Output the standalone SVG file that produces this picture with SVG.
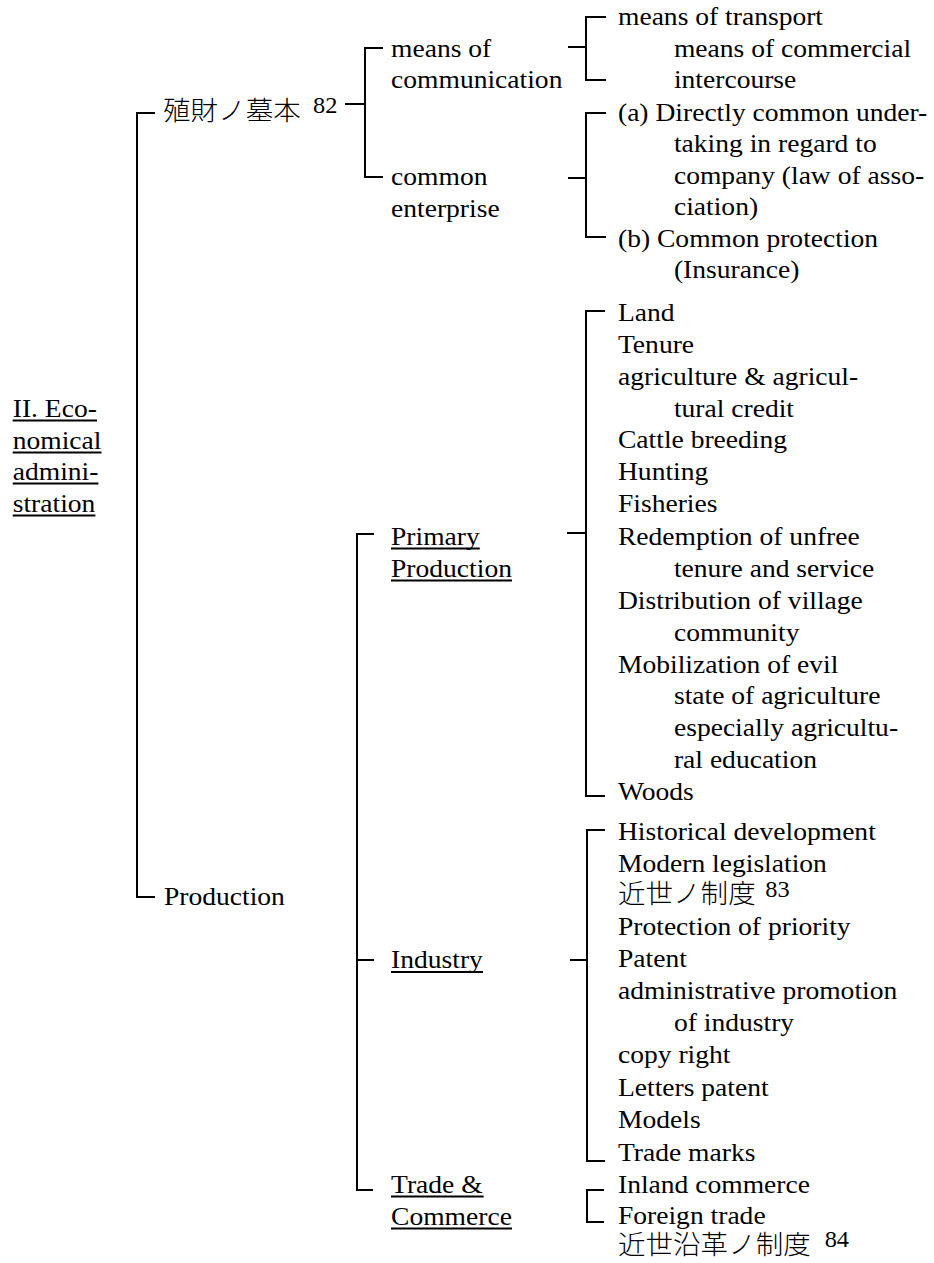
<svg xmlns="http://www.w3.org/2000/svg" width="934" height="1263" viewBox="0 0 934 1263">
<style>
text { font-family: "Liberation Serif", "Times New Roman", "Noto Sans CJK JP", serif; font-size: 26px; fill: #000; }
.cjk { font-weight: 300; }
.sup { font-size: 23px; }
.c { fill: none; stroke: #000; stroke-width: 2; }
.ul { fill: none; stroke: #000; stroke-width: 2; }
</style>
<rect width="934" height="1263" fill="#fff"/>
<g id="connectors" class="c">
<path d="M155,113 H137 V897 H155"/>
<path d="M345,104 H365"/>
<path d="M383,48 H365 V177 H383"/>
<path d="M606,17 H586 V80 H606"/>
<path d="M568,47 H586"/>
<path d="M606,113 H586 V237 H606"/>
<path d="M568,178 H586"/>
<path d="M374,534 H357 V1190 H373"/>
<path d="M357,960 H374"/>
<path d="M605,311 H586 V796 H605"/>
<path d="M567,533 H586"/>
<path d="M605,830 H587 V1161 H605"/>
<path d="M570,960 H587"/>
<path d="M604,1190 H587 V1222 H604"/>
</g>
<g id="n-root">
<text transform="scale(1.06 1)"><tspan x="12" y="417">II. Eco-</tspan><tspan x="12" y="449">nomical</tspan><tspan x="12" y="480">admini-</tspan><tspan x="12" y="512">stration</tspan></text>
<path class="ul" d="M12.7,420.5 H97 M12.7,452.5 H101.5 M12.7,483.5 H98.4 M12.7,515.5 H95.4"/>
</g>
<g id="n-shokuzai">
<text class="cjk" transform="scale(1.06 1)" x="153.8" y="120">殖財ノ墓本</text>
<text class="sup" transform="scale(1.06 1)" x="295.3" y="113">82</text>
</g>
<g id="n-production">
<text transform="scale(1.06 1)" x="154.7" y="905">Production</text>
</g>
<g id="n-means">
<text transform="scale(1.06 1)"><tspan x="368.9" y="57">means of</tspan><tspan x="368.9" y="88">communication</tspan></text>
</g>
<g id="n-common">
<text transform="scale(1.06 1)"><tspan x="368.9" y="185">common</tspan><tspan x="368.9" y="217">enterprise</tspan></text>
</g>
<g id="n-primary">
<text transform="scale(1.06 1)"><tspan x="368.9" y="545">Primary</tspan><tspan x="368.9" y="577">Production</tspan></text>
<path class="ul" d="M391,548.5 H479.8 M391,580.5 H512"/>
</g>
<g id="n-industry">
<text transform="scale(1.06 1)" x="368.9" y="968">Industry</text>
<path class="ul" d="M391,972 H483"/>
</g>
<g id="n-trade">
<text transform="scale(1.06 1)"><tspan x="368.9" y="1193">Trade &amp;</tspan><tspan x="368.9" y="1225">Commerce</tspan></text>
<path class="ul" d="M391,1196.5 H483.6 M391,1228.5 H512"/>
</g>
<g id="n-transport">
<text transform="scale(1.06 1)"><tspan x="583" y="25">means of transport</tspan><tspan x="635.8" y="57">means of commercial</tspan><tspan x="635.8" y="88">intercourse</tspan></text>
</g>
<g id="n-enterprise-items">
<text transform="scale(1.06 1)"><tspan x="583" y="121">(a) Directly common under-</tspan><tspan x="635.8" y="152">taking in regard to</tspan><tspan x="635.8" y="184">company (law of asso-</tspan><tspan x="635.8" y="215">ciation)</tspan><tspan x="583" y="247">(b) Common protection</tspan><tspan x="635.8" y="278">(Insurance)</tspan></text>
</g>
<g id="n-primary-items">
<text transform="scale(1.06 1)"><tspan x="583" y="321">Land</tspan><tspan x="583" y="353">Tenure</tspan><tspan x="583" y="385">agriculture &amp; agricul-</tspan><tspan x="635.8" y="417">tural credit</tspan><tspan x="583" y="448">Cattle breeding</tspan><tspan x="583" y="480">Hunting</tspan><tspan x="583" y="512">Fisheries</tspan><tspan x="583" y="545">Redemption of unfree</tspan><tspan x="635.8" y="577">tenure and service</tspan><tspan x="583" y="609">Distribution of village</tspan><tspan x="635.8" y="641">community</tspan><tspan x="583" y="673">Mobilization of evil</tspan><tspan x="635.8" y="704">state of agriculture</tspan><tspan x="635.8" y="736">especially agricultu-</tspan><tspan x="635.8" y="768">ral education</tspan><tspan x="583" y="800">Woods</tspan></text>
</g>
<g id="n-industry-items">
<text transform="scale(1.06 1)"><tspan x="583" y="840">Historical development</tspan><tspan x="583" y="872">Modern legislation</tspan><tspan class="cjk" x="583" y="903">近世ノ制度</tspan><tspan x="583" y="935">Protection of priority</tspan><tspan x="583" y="967">Patent</tspan><tspan x="583" y="999">administrative promotion</tspan><tspan x="635.8" y="1031">of industry</tspan><tspan x="583" y="1063">copy right</tspan><tspan x="583" y="1096">Letters patent</tspan><tspan x="583" y="1128">Models</tspan><tspan x="583" y="1161">Trade marks</tspan></text>
<text class="sup" transform="scale(1.06 1)" x="722" y="897">83</text>
</g>
<g id="n-trade-items">
<text transform="scale(1.06 1)"><tspan x="583" y="1193">Inland commerce</tspan><tspan x="583" y="1224">Foreign trade</tspan><tspan class="cjk" x="583" y="1254">近世沿革ノ制度</tspan></text>
<text class="sup" transform="scale(1.06 1)" x="778" y="1247">84</text>
</g>
</svg>
